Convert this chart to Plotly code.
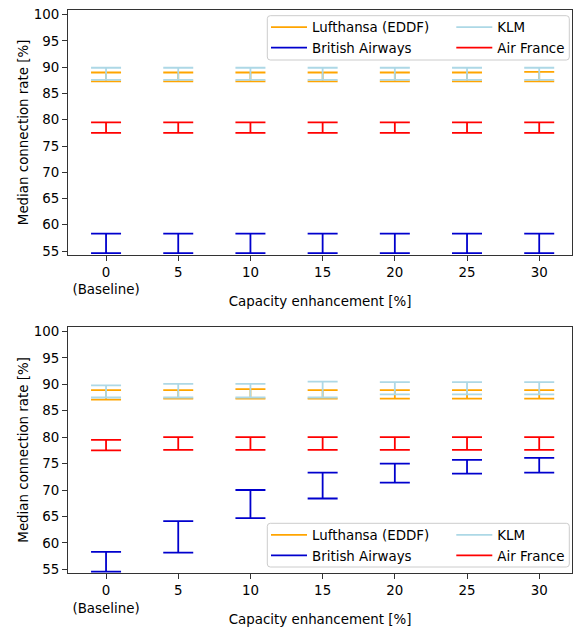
import plotly.graph_objects as go
from plotly.subplots import make_subplots

# ---------------- data ----------------
capacity = [0, 5, 10, 15, 20, 25, 30]
tick_labels = ["0<br>(Baseline)", "5", "10", "15", "20", "25", "30"]
y_ticks = [55, 60, 65, 70, 75, 80, 85, 90, 95, 100]

# top panel (lower / upper bound of median connection rate)
lh_lo_top = [87.3, 87.3, 87.3, 87.3, 87.3, 87.3, 87.3]
lh_hi_top = [89.0, 89.0, 89.0, 89.0, 89.0, 89.0, 89.1]
ba_lo_top = [54.6, 54.6, 54.6, 54.6, 54.6, 54.6, 54.6]
ba_hi_top = [58.3, 58.3, 58.3, 58.3, 58.3, 58.3, 58.3]
klm_lo_top = [87.6, 87.6, 87.6, 87.6, 87.6, 87.6, 87.6]
klm_hi_top = [89.9, 89.9, 89.9, 89.9, 89.9, 89.9, 89.9]
af_lo_top = [77.5, 77.5, 77.5, 77.5, 77.5, 77.5, 77.5]
af_hi_top = [79.5, 79.5, 79.5, 79.5, 79.5, 79.5, 79.5]

# bottom panel
lh_lo_bot = [87.1, 87.3, 87.3, 87.3, 87.3, 87.3, 87.3]
lh_hi_bot = [88.9, 88.9, 89.1, 88.9, 88.9, 88.9, 88.9]
ba_lo_bot = [54.55, 58.15, 64.7, 68.4, 71.4, 73.1, 73.3]
ba_hi_bot = [58.3, 64.1, 70.0, 73.3, 75.0, 75.7, 76.1]
klm_lo_bot = [87.5, 87.5, 87.5, 87.5, 88.1, 88.1, 88.1]
klm_hi_bot = [89.8, 90.1, 90.1, 90.5, 90.4, 90.4, 90.4]
af_lo_bot = [77.5, 77.6, 77.6, 77.6, 77.6, 77.6, 77.6]
af_hi_bot = [79.5, 80.0, 80.0, 80.0, 80.0, 80.0, 80.0]

names = ["Lufthansa (EDDF)", "British Airways", "KLM", "Air France"]
colors = ["#FFA500", "#0000CD", "#ADD8E6", "#FF0000"]

top_data = [(lh_lo_top, lh_hi_top), (ba_lo_top, ba_hi_top),
            (klm_lo_top, klm_hi_top), (af_lo_top, af_hi_top)]
bot_data = [(lh_lo_bot, lh_hi_bot), (ba_lo_bot, ba_hi_bot),
            (klm_lo_bot, klm_hi_bot), (af_lo_bot, af_hi_bot)]

FONT = "DejaVu Sans"
FS = 13.4
W, H = 578, 630
ML, MR, MT, MB = 68, 6, 10, 57
PW, PH = W - ML - MR, H - MT - MB

fig = make_subplots(rows=2, cols=1, vertical_spacing=0.1)


def add_panel(data, row, legend_a, legend_b):
    for i, ((lo, hi), name, col) in enumerate(zip(data, names, colors)):
        mid = [(a + b) / 2 for a, b in zip(lo, hi)]
        err = [(b - a) / 2 for a, b in zip(lo, hi)]
        fig.add_trace(go.Scatter(
            x=capacity, y=mid, mode="markers",
            marker=dict(size=1, opacity=0, color=col),
            error_y=dict(type="data", array=err, symmetric=True,
                         color=col, thickness=1.8, width=15),
            showlegend=False, hoverinfo="skip"), row=row, col=1)
    # legend entries (matplotlib ncol=2 column-wise order)
    for i, (name, col) in enumerate(zip(names, colors)):
        fig.add_trace(go.Scatter(
            x=[None], y=[None], mode="lines", name=name,
            line=dict(color=col, width=1.8),
            legend=legend_a if i < 2 else legend_b,
            showlegend=True), row=row, col=1)


add_panel(top_data, 1, "legend", "legend2")
add_panel(bot_data, 2, "legend3", "legend4")

axis_common = dict(showline=True, linecolor="#333333", linewidth=1, mirror=True,
                   ticks="outside", ticklen=5, tickwidth=1, tickcolor="#333333",
                   showgrid=False, zeroline=False,
                   tickfont=dict(family=FONT, size=FS, color="black"))

for r in (1, 2):
    fig.update_xaxes(range=[-2.635, 32.27], tickmode="array", tickvals=capacity,
                     ticktext=tick_labels,
                     title=dict(text="Capacity enhancement [%]",
                                font=dict(family=FONT, size=FS, color="black"),
                                standoff=0),
                     row=r, col=1, **axis_common)
    fig.update_yaxes(range=[54.3, 100.9], tickmode="array", tickvals=y_ticks,
                     title=dict(text="Median connection rate [%]",
                                font=dict(family=FONT, size=FS, color="black"),
                                standoff=2),
                     row=r, col=1, **axis_common)

fig.update_layout(
    xaxis=dict(domain=[0, 1]), xaxis2=dict(domain=[0, 1]),
    yaxis=dict(domain=[(573 - 254.7) / PH, 1.0]),
    yaxis2=dict(domain=[0.0, (573 - 326.7) / PH]),
)


def px2x(px):
    return (px - ML) / PW


def px2y(py):
    return (H - MB - py) / PH


leg_common = dict(bgcolor="rgba(0,0,0,0)", borderwidth=0, xanchor="left",
                  yanchor="top", itemwidth=36, tracegroupgap=0,
                  font=dict(family=FONT, size=FS, color="black"))
fig.update_layout(
    legend=dict(x=px2x(266), y=px2y(12), **leg_common),
    legend2=dict(x=px2x(451.3), y=px2y(12), **leg_common),
    legend3=dict(x=px2x(266), y=px2y(519.7), **leg_common),
    legend4=dict(x=px2x(451.3), y=px2y(519.7), **leg_common),
)


def rounded_box(x0p, y0p, x1p, y1p, r=3):
    x0, x1 = px2x(x0p), px2x(x1p)
    yt, yb = px2y(y0p), px2y(y1p)
    rx, ry = r / PW, r / PH
    return (f"M {x0+rx},{yt} L {x1-rx},{yt} Q {x1},{yt} {x1},{yt-ry} "
            f"L {x1},{yb+ry} Q {x1},{yb} {x1-rx},{yb} "
            f"L {x0+rx},{yb} Q {x0},{yb} {x0},{yb+ry} "
            f"L {x0},{yt-ry} Q {x0},{yt} {x0+rx},{yt} Z")


for box in [(267.3, 15.7, 569.3, 60.0), (267.3, 523.3, 569.3, 567.0)]:
    fig.add_shape(type="path", xref="paper", yref="paper", path=rounded_box(*box),
                  line=dict(color="#CCCCCC", width=1),
                  fillcolor="rgba(255,255,255,0.8)", layer="above")

fig.update_layout(
    width=W, height=H,
    margin=dict(l=ML, r=MR, t=MT, b=MB, autoexpand=False),
    paper_bgcolor="white", plot_bgcolor="white",
    font=dict(family=FONT, size=FS, color="black"),
)

fig.write_html("out.html",
               config={"displayModeBar": False, "staticPlot": True},
               post_script="document.body.style.margin='0';"
                           "document.body.style.padding='0';")
